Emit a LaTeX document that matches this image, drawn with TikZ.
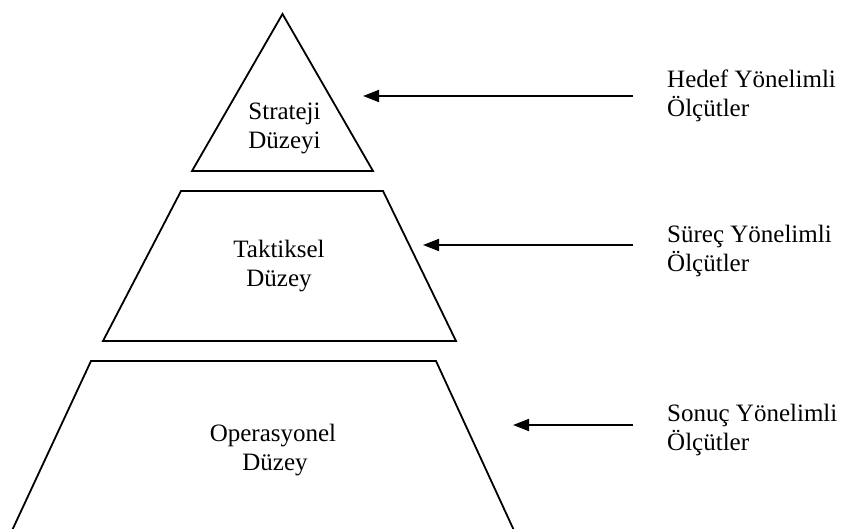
\documentclass[tikz,border=0pt]{standalone}
\usepackage{fontspec}
\setmainfont{Liberation Serif}
\usetikzlibrary{arrows.meta}
\begin{document}
\begin{tikzpicture}[x=1pt,y=-1pt,
  level/.style={draw=black,line width=1.8pt,line join=miter},
  pointer/.style={line width=1.8pt,-{Triangle[length=16pt,width=12pt]}},
  lbl/.style={inner sep=0pt,font=\fontsize{25}{29}\selectfont},
]
\useasboundingbox (0,0) rectangle (842,529);

% pyramid levels
\draw[level] (282.5,14) -- (373,171) -- (192,171) -- cycle;
\draw[level] (181,191) -- (383,191) -- (456,341) -- (103,341) -- cycle;
\begin{scope}
  \clip (0,0) rectangle (842,529);
  \draw[level] (91,361) -- (436,361) -- (517,537) -- (9,537) -- cycle;
\end{scope}

% level names
\node[lbl,anchor=base] (s1) at (284.5,120) {Strateji};
\node[lbl,anchor=base] (s2) at (284.5,149) {Düzeyi};
\node[lbl,anchor=base] (t1) at (279,257) {Taktiksel};
\node[lbl,anchor=base] (t2) at (279,286) {Düzey};
\node[lbl,anchor=base] (o1) at (273,441) {Operasyonel};
\node[lbl,anchor=base] (o2) at (275,470) {Düzey};

% measure groups
\node[lbl,anchor=base west] (h1) at (667,88) {Hedef Yönelimli};
\node[lbl,anchor=base west] (h2) at (667,117) {Ölçütler};
\node[lbl,anchor=base west] (p1) at (667,242) {Süreç Yönelimli};
\node[lbl,anchor=base west] (p2) at (667,271) {Ölçütler};
\node[lbl,anchor=base west] (r1) at (667,421) {Sonuç Yönelimli};
\node[lbl,anchor=base west] (r2) at (667,450) {Ölçütler};

% arrows
\coordinate (ha) at (633,96);  \coordinate (hb) at (363,96);
\coordinate (pa) at (633,245); \coordinate (pb) at (423,245);
\coordinate (ra) at (633,425); \coordinate (rb) at (513,425);
\draw[pointer] (ha) -- (hb);
\draw[pointer] (pa) -- (pb);
\draw[pointer] (ra) -- (rb);
\end{tikzpicture}
\end{document}
